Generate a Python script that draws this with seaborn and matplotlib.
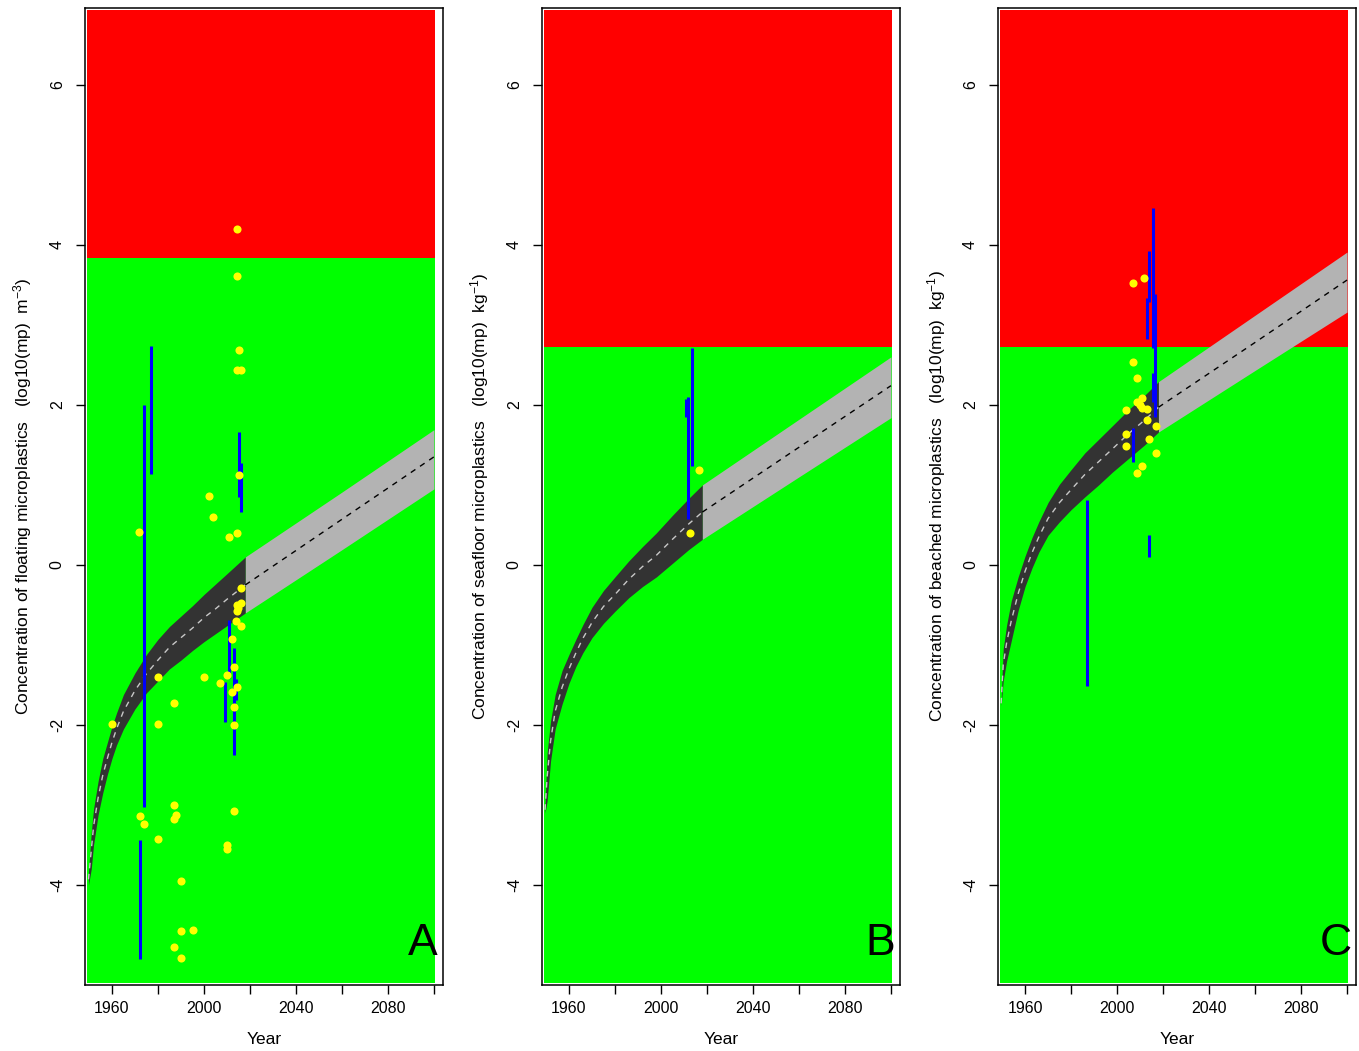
import matplotlib

matplotlib.use('Agg')
import matplotlib.pyplot as plt
import seaborn as sns

# --- values ---
# boundary between the green (below) and red (above) zones
thresholds = [3.83, 2.72, 2.72]

# modelled concentration, 1950-2018 (dark band)
years_a = [1949.8, 1951, 1952, 1954, 1956, 1958, 1960, 1962, 1965, 1970, 1975,
           1980, 1985, 1990, 1995, 2000, 2005, 2010, 2018]
low_a = [-4.00, -3.80, -3.50, -3.12, -2.85, -2.62, -2.42, -2.25, -2.05, -1.80, -1.60,
         -1.45, -1.30, -1.19, -1.07, -0.96, -0.86, -0.76, -0.60]
high_a = [-3.85, -3.35, -3.05, -2.70, -2.42, -2.22, -2.02, -1.85, -1.62, -1.35, -1.12,
          -0.93, -0.77, -0.64, -0.51, -0.37, -0.24, -0.11, 0.10]
mid_a = [-3.93, -3.57, -3.27, -2.91, -2.63, -2.42, -2.22, -2.05, -1.83, -1.57, -1.36,
         -1.19, -1.03, -0.91, -0.79, -0.66, -0.55, -0.43, -0.25]

years_b = [1949.6, 1950.5, 1952, 1954, 1957, 1960, 1963, 1966, 1970, 1975,
           1980, 1986, 1992, 1998, 2005, 2012, 2018]
low_b = [-3.10, -2.95, -2.45, -2.05, -1.74, -1.48, -1.27, -1.10, -0.91, -0.73,
         -0.58, -0.41, -0.27, -0.15, 0.02, 0.19, 0.32]
high_b = [-3.02, -2.35, -1.95, -1.62, -1.32, -1.12, -0.93, -0.75, -0.53, -0.32,
          -0.15, 0.05, 0.23, 0.40, 0.62, 0.83, 1.00]
mid_b = [-3.06, -2.65, -2.20, -1.83, -1.53, -1.30, -1.10, -0.92, -0.72, -0.52,
         -0.37, -0.18, -0.02, 0.12, 0.32, 0.51, 0.66]

years_c = [1949.6, 1950.5, 1952, 1954, 1957, 1960, 1963, 1966, 1970, 1975,
           1980, 1986, 1992, 1998, 2005, 2012, 2018]
low_c = [-1.76, -1.45, -1.20, -0.95, -0.57, -0.27, -0.04, 0.16, 0.37, 0.54,
         0.69, 0.85, 1.00, 1.16, 1.33, 1.50, 1.66]
high_c = [-1.70, -1.05, -0.75, -0.45, -0.15, 0.11, 0.34, 0.54, 0.78, 1.01,
          1.19, 1.40, 1.57, 1.74, 1.94, 2.12, 2.29]
mid_c = [-1.73, -1.25, -0.97, -0.70, -0.36, -0.08, 0.15, 0.35, 0.58, 0.78,
         0.94, 1.13, 1.29, 1.45, 1.64, 1.81, 1.97]

# projection, 2018-2100 (grey band)
proj_years = [2018, 2060, 2100]
proj_low_a = [-0.60, 0.19, 0.95]
proj_high_a = [0.10, 0.91, 1.69]
proj_mid_a = [-0.25, 0.57, 1.35]
proj_low_b = [0.32, 1.10, 1.84]
proj_high_b = [1.00, 1.82, 2.60]
proj_mid_b = [0.66, 1.47, 2.24]
proj_low_c = [1.66, 2.43, 3.16]
proj_high_c = [2.29, 3.12, 3.91]
proj_mid_c = [1.97, 2.78, 3.56]

# observed ranges (blue bars)
seg_year_a = [1972.2, 1974.0, 1977.0, 2009.1, 2011.0, 2013.0, 2013.9, 2015.1, 2016.1]
seg_low_a = [-4.92, -3.02, 1.14, -1.96, -1.41, -2.38, -1.69, 0.85, 0.66]
seg_high_a = [-3.44, 2.00, 2.74, -1.46, -0.69, -1.04, -1.43, 1.66, 1.27]

seg_year_b = [2010.7, 2011.9, 2013.6]
seg_low_b = [1.85, 0.57, 1.24]
seg_high_b = [2.07, 2.10, 2.71]

seg_year_c = [1986.8, 2006.8, 2012.9, 2013.9, 2013.9, 2015.8, 2015.8, 2016.5]
seg_low_c = [-1.51, 1.29, 2.82, 3.29, 0.10, 2.71, 2.04, 1.85]
seg_high_c = [0.81, 1.71, 3.33, 3.92, 0.375, 4.46, 2.40, 3.38]

# observed means (yellow points)
obs_year_a = [1960.1, 1971.9, 1972.0, 1974.0, 1979.9, 1979.9, 1980.1, 1987.1, 1987.1,
              1987.7, 1987.1, 1987.1, 1990.0, 1990.0, 1990.0, 1995.1, 2000.0, 2002.2,
              2004.1, 2007.0, 2009.9, 2010.1, 2010.1, 2011.0, 2012.0, 2012.0, 2013.0,
              2013.0, 2013.0, 2013.0, 2014.2, 2014.2, 2014.2, 2014.2, 2014.2, 2014.2,
              2014.5, 2013.9, 2014.9, 2015.1, 2015.1, 2016.0, 2016.0, 2016.0, 2016.0]
obs_val_a = [-1.99, 0.41, -3.14, -3.24, -1.40, -1.99, -3.43, -1.72, -3.00,
             -3.12, -3.17, -4.78, -3.95, -4.58, -4.91, -4.56, -1.40, 0.86,
             0.60, -1.47, -1.38, -3.50, -3.55, 0.35, -0.93, -1.59, -1.27,
             -1.77, -2.00, -3.07, 4.20, 3.61, 2.44, 0.40, -0.50, -0.58,
             -1.52, -0.70, -0.54, 2.69, 1.12, 2.44, -0.29, -0.47, -0.76]

obs_year_b = [2012.6, 2016.7]
obs_val_b = [0.40, 1.18]

obs_year_c = [2006.8, 2011.7, 2006.8, 2008.8, 2008.6, 2010.7, 2010.0, 2010.9, 2012.9,
              2003.8, 2012.9, 2016.8, 2003.8, 2013.9, 2003.8, 2016.8, 2010.7, 2008.8]
obs_val_c = [3.52, 3.58, 2.53, 2.33, 2.04, 2.08, 2.00, 1.96, 1.95,
             1.94, 1.81, 1.73, 1.63, 1.57, 1.49, 1.40, 1.24, 1.15]

ylabels = [
    'Concentration of floating microplastics   (log10(mp)  m$^{-3}$)',
    'Concentration of seafloor microplastics   (log10(mp)  kg$^{-1}$)',
    'Concentration of beached microplastics   (log10(mp)  kg$^{-1}$)',
]
panel_letters = ['A', 'B', 'C']


def draw_panel(ax, threshold, hist, proj, segs, obs, ylabel, letter):
    years, low, high, mid = hist
    p_low, p_high, p_mid = proj

    # background zones
    ax.fill_between([1949.3, 2100.4], -5.22, threshold, color='#00FF00', lw=0, zorder=0)
    ax.fill_between([1949.3, 2100.4], threshold, 6.94, color='#FF0000', lw=0, zorder=0)

    ax.fill_between(years, low, high, color='#333333', lw=0, zorder=1)
    ax.fill_between(proj_years, p_low, p_high, color='#B3B3B3', lw=0, zorder=1)
    sns.lineplot(x=years, y=mid, ax=ax, color='#C8C8C8', lw=1, linestyle=(0, (4, 4)),
                 sort=False, estimator=None, zorder=2)
    sns.lineplot(x=proj_years, y=p_mid, ax=ax, color='black', lw=1, linestyle=(0, (4, 4)),
                 sort=False, estimator=None, zorder=2)

    seg_year, seg_low, seg_high = segs
    ax.vlines(seg_year, seg_low, seg_high, color='#0000FF', lw=2.2, zorder=3)

    obs_year, obs_val = obs
    sns.scatterplot(x=obs_year, y=obs_val, ax=ax, color='#FFFF00', s=34, linewidth=0, zorder=4)

    ax.set_xlim(1948.26, 2103.9)
    ax.set_ylim(-5.25, 6.96)
    ax.set_xticks(range(1960, 2101, 20))
    ax.set_xticklabels(['1960', '', '2000', '', '2040', '', '2080', ''])
    ax.set_yticks([-4, -2, 0, 2, 4, 6])
    ax.set_yticklabels(['-4', '-2', '0', '2', '4', '6'], rotation=90, va='center')
    ax.tick_params(axis='both', length=6.5, width=1, labelsize=11.5,
                   color='black', labelcolor='black')
    ax.tick_params(axis='x', pad=5)
    ax.tick_params(axis='y', pad=8)
    for side in ax.spines.values():
        side.set_visible(True)
        side.set_linewidth(1.1)
        side.set_color('black')

    ax.set_xlabel('Year', fontsize=12.5, color='black')
    ax.xaxis.set_label_coords(0.5, -0.048)
    ax.set_ylabel(ylabel, fontsize=12.5, color='black')
    ax.yaxis.set_label_coords(-0.141, 0.5)
    ax.text(0.944, 0.042, letter, transform=ax.transAxes, fontsize=32,
            color='black', ha='center', va='center', zorder=6)


sns.set_style('ticks')
plt.rcParams['font.family'] = ['Liberation Sans', 'DejaVu Sans']
plt.rcParams['mathtext.fontset'] = 'custom'
plt.rcParams['mathtext.rm'] = 'Liberation Sans'
plt.rcParams['mathtext.it'] = 'Liberation Sans'
plt.rcParams['axes.unicode_minus'] = False
plt.rcParams['text.color'] = 'black'

fig = plt.figure(figsize=(13.59, 10.51), dpi=100)
lefts = [0.0625, 0.3988, 0.7344]
axes = [fig.add_axes([left, 0.0628, 0.2634, 0.9296]) for left in lefts]

draw_panel(axes[0], thresholds[0], (years_a, low_a, high_a, mid_a),
           (proj_low_a, proj_high_a, proj_mid_a),
           (seg_year_a, seg_low_a, seg_high_a), (obs_year_a, obs_val_a),
           ylabels[0], panel_letters[0])
draw_panel(axes[1], thresholds[1], (years_b, low_b, high_b, mid_b),
           (proj_low_b, proj_high_b, proj_mid_b),
           (seg_year_b, seg_low_b, seg_high_b), (obs_year_b, obs_val_b),
           ylabels[1], panel_letters[1])
draw_panel(axes[2], thresholds[2], (years_c, low_c, high_c, mid_c),
           (proj_low_c, proj_high_c, proj_mid_c),
           (seg_year_c, seg_low_c, seg_high_c), (obs_year_c, obs_val_c),
           ylabels[2], panel_letters[2])

fig.savefig('out.png', dpi=100)
plt.close(fig)
